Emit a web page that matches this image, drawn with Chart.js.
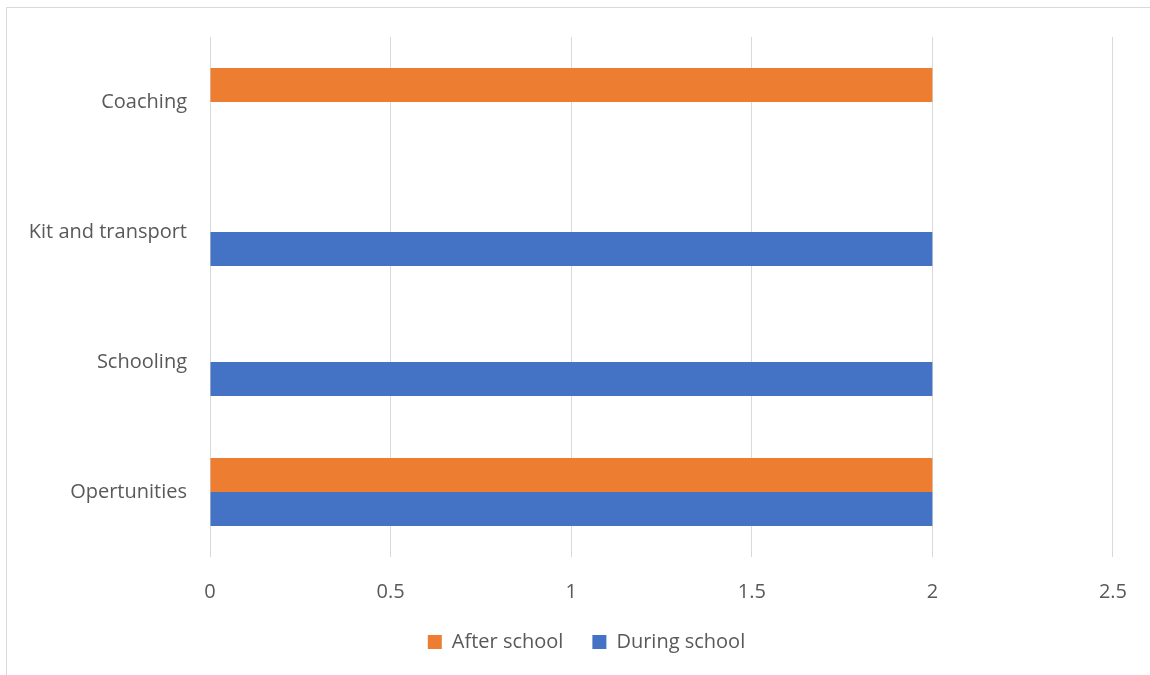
<!DOCTYPE html>
<html>
<head>
<meta charset="utf-8">
<style>
  html, body { margin: 0; padding: 0; background: #ffffff; overflow: hidden; }
  #wrap { position: relative; width: 1150px; height: 675px; }
  #frame { position: absolute; left: 6px; top: 7px; width: 1200px; height: 700px;
           border: 1px solid #d9d9d9; box-sizing: border-box; pointer-events: none; }
  canvas { position: absolute; left: 0; top: 0; }
</style>
<script src="https://cdn.jsdelivr.net/npm/chart.js@4"></script>
</head>
<body>
<div id="wrap">
  <div id="frame"></div>
  <canvas id="chart" width="1150" height="675"></canvas>
</div>
<script>
// Categories listed top to bottom
const categories = ['Coaching', 'Kit and transport', 'Schooling', 'Opertunities'];
const afterSchool = [2, null, null, 2];
const duringSchool = [null, 2, 2, 2];
const xTickValues = [0, 0.5, 1, 1.5, 2, 2.5];

const textColor = '#595959';
const font = { family: '"Open Sans", sans-serif', size: 20 };

// Nudge the legend box so it sits centred under the whole frame
const legendOffset = {
  id: 'legendOffset',
  afterLayout(chart) {
    const lg = chart.legend;
    if (!lg) return;
    lg.left += 60;
    lg.top -= 1;
    lg.bottom -= 1;
  }
};

new Chart(document.getElementById('chart'), {
  type: 'bar',
  data: {
    labels: categories,
    datasets: [
      { label: 'After school', data: afterSchool, backgroundColor: '#ED7D31' },
      { label: 'During school', data: duringSchool, backgroundColor: '#4472C4' }
    ]
  },
  options: {
    indexAxis: 'y',
    responsive: false,
    devicePixelRatio: 1,
    animation: false,
    categoryPercentage: 68 / 130,
    barPercentage: 1,
    layout: { padding: { top: 37, right: 37, bottom: 12, left: 0 } },
    scales: {
      x: {
        min: 0,
        max: 2.5,
        afterBuildTicks: (scale) => { scale.ticks = xTickValues.map(v => ({ value: v })); },
        afterFit: (scale) => { scale.height = 47; },
        grid: { color: '#d9d9d9', lineWidth: 1, drawTicks: false },
        border: { display: false },
        ticks: { color: textColor, font: font, padding: 23, callback: (v) => String(v) }
      },
      y: {
        grid: { display: false, drawTicks: false },
        border: { display: false },
        ticks: { color: textColor, font: font, padding: 23 },
        afterFit: (scale) => { scale.width = 210; }
      }
    },
    plugins: {
      tooltip: { enabled: false },
      legend: {
        position: 'bottom',
        labels: { color: textColor, font: font, boxWidth: 14, boxHeight: 14, padding: 29 }
      }
    }
  },
  plugins: [legendOffset]
});
</script>
</body>
</html>
